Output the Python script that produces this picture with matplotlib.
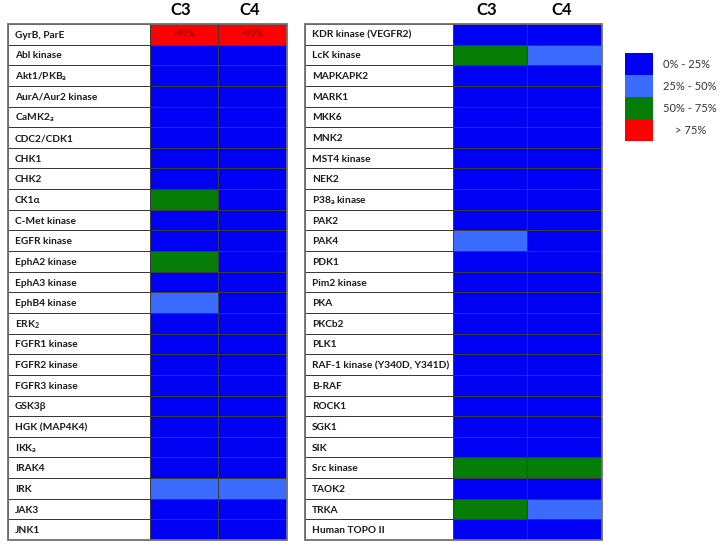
import numpy as np
import matplotlib.pyplot as plt
from matplotlib.colors import ListedColormap, BoundaryNorm
from matplotlib.patches import Rectangle

plt.rcParams['font.family'] = ['Lato', 'DejaVu Sans']
plt.rcParams['mathtext.fontset'] = 'custom'
plt.rcParams['mathtext.rm'] = 'Lato:bold'
plt.rcParams['mathtext.bf'] = 'Lato:bold'

# inhibition class: 0 = 0-25%, 1 = 25-50%, 2 = 50-75%, 3 = >75%
left_labels = ['GyrB, ParE', 'Abl kinase', r'Akt1/PKB$_\mathrm{a}$', 'AurA/Aur2 kinase',
               r'CaMK2$_\mathrm{a}$', 'CDC2/CDK1', 'CHK1', 'CHK2', 'CK1α', 'C-Met kinase',
               'EGFR kinase', 'EphA2 kinase', 'EphA3 kinase', 'EphB4 kinase', r'ERK$_\mathrm{2}$',
               'FGFR1 kinase', 'FGFR2 kinase', 'FGFR3 kinase', 'GSK3β', 'HGK (MAP4K4)',
               r'IKK$_\mathrm{a}$', 'IRAK4', 'IRK', 'JAK3', 'JNK1']
left_c3 = [3, 0, 0, 0, 0, 0, 0, 0, 2, 0, 0, 2, 0, 1, 0, 0, 0, 0, 0, 0, 0, 0, 1, 0, 0]
left_c4 = [3, 0, 0, 0, 0, 0, 0, 0, 0, 0, 0, 0, 0, 0, 0, 0, 0, 0, 0, 0, 0, 0, 1, 0, 0]

right_labels = ['KDR kinase (VEGFR2)', 'LcK kinase', 'MAPKAPK2', 'MARK1', 'MKK6', 'MNK2',
                'MST4 kinase', 'NEK2', r'P38$_\mathrm{a}$ kinase', 'PAK2', 'PAK4', 'PDK1',
                'Pim2 kinase', 'PKA', 'PKCb2', 'PLK1', 'RAF-1 kinase (Y340D, Y341D)', 'B-RAF',
                'ROCK1', 'SGK1', 'SIK', 'Src kinase', 'TAOK2', 'TRKA', 'Human TOPO II']
right_c3 = [0, 2, 0, 0, 0, 0, 0, 0, 0, 0, 1, 0, 0, 0, 0, 0, 0, 0, 0, 0, 0, 2, 0, 2, 0]
right_c4 = [0, 1, 0, 0, 0, 0, 0, 0, 0, 0, 0, 0, 0, 0, 0, 0, 0, 0, 0, 0, 0, 2, 0, 1, 0]

columns = ['C3', 'C4']
legend_labels = ['0% - 25%', '25% - 50%', '50% - 75%', '> 75%']
colors = ['#0000f5', '#3b6cff', '#067d06', '#ff0000']

cmap = ListedColormap(['white'] + colors)
norm = BoundaryNorm([-1.5, -0.5, 0.5, 1.5, 2.5, 3.5], cmap.N)

W, H = 721, 549
fig = plt.figure(figsize=(W / 100, H / 100), dpi=100)


def table(x0, x1, xlab, xc3, labels, c3, c4):
    ax = fig.add_axes([x0 / W, (H - 540) / H, (x1 - x0) / W, (540 - 24) / H])
    n = len(labels)
    grid = np.column_stack([-np.ones(n), c3, c4])
    xe = [0, xlab - x0, xc3 - x0, x1 - x0]
    ax.pcolormesh(xe, np.arange(n + 1), grid, cmap=cmap, norm=norm,
                  edgecolors='#3a3a3a', linewidth=0.6)
    ax.set_xlim(0, x1 - x0)
    ax.set_ylim(n, 0)
    ax.axis('off')
    ax.add_patch(Rectangle((0, 0), x1 - x0, n, fill=False, ec='#707070', lw=1.3, clip_on=False))
    for i, lab in enumerate(labels):
        ax.text(7, i + 0.55, lab, fontsize=7.3, fontweight='bold', va='center', ha='left',
                color='#1a1a1a')
    for j, name in enumerate(columns):
        cx = (xe[j + 1] + xe[j + 2]) / 2
        ax.text(cx - 3, -0.3, name, fontsize=12, fontweight='bold', ha='center', va='bottom')
    return ax


axl = table(8, 287, 150, 218, left_labels, left_c3, left_c4)
for j in range(2):
    if [left_c3, left_c4][j][0] == 3:
        axl.text([184, 252][j] - 8, 0.5, '>99%', fontsize=6.5, color='#8b0000',
                 ha='center', va='center')

table(305, 602, 453, 527, right_labels, right_c3, right_c4)

# legend
for k, (c, lab) in enumerate(zip(colors, legend_labels)):
    y = 53 + 22 * k
    fig.patches.append(Rectangle((625 / W, 1 - (y + 22) / H), 28 / W, 22 / H,
                                 transform=fig.transFigure, fc=c, ec='none'))
    fig.text((663 if k < 3 else 675) / W, 1 - (y + 11) / H, lab, fontsize=8,
             color='#333333', va='center', ha='left')

fig.savefig('out.png', dpi=100)
